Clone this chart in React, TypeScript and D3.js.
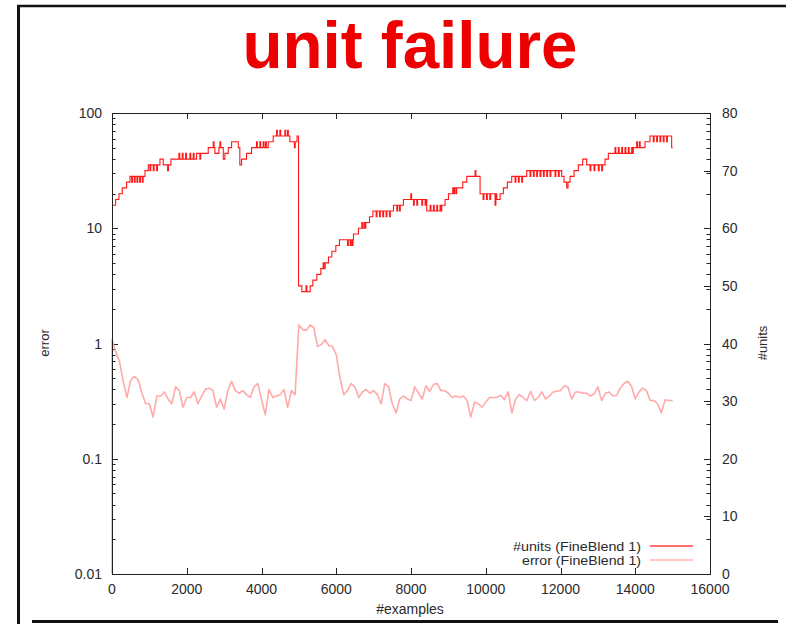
import { useEffect, useRef } from "react";
import * as d3 from "d3";

// #units step changes: [examples, units]
const unitSteps: [number, number][] = [
  [0, 64], [97, 65], [186, 66], [275, 67], [391, 68], [480, 69], [882, 70], [971, 71],
  [1283, 72], [1372, 71], [1577, 72], [2263, 73], [2575, 74], [2753, 73], [2860, 74],
  [2977, 72], [3020, 73], [3110, 74], [3200, 75], [3380, 74], [3420, 71], [3466, 72],
  [3600, 73], [3734, 74], [4180, 75], [4313, 76], [4760, 75], [4950, 76], [4991, 50],
  [5080, 49], [5303, 50], [5374, 51], [5481, 52], [5588, 53], [5704, 54], [5793, 55],
  [5882, 56], [5989, 57], [6087, 58], [6461, 59], [6595, 60], [6790, 61], [6890, 62],
  [6980, 63], [7531, 64], [7798, 65], [8422, 63], [8823, 64], [8913, 65], [9002, 66],
  [9118, 67], [9385, 68], [9492, 69], [9848, 66], [10294, 65], [10383, 66], [10472, 67],
  [10579, 68], [10695, 69], [11096, 70], [12032, 69], [12095, 68], [12166, 67], [12200, 68],
  [12255, 69], [12362, 70], [12478, 71], [12594, 72], [12701, 71], [13191, 72], [13280, 73],
  [13948, 74], [14261, 75], [14394, 76], [14974, 74], [15000, 74],
];

// short one-unit flickers of #units: [examples, units]
const unitFlicks: [number, number][] = [
  [526, 68], [597, 68], [668, 68], [740, 68], [811, 68],
  [1015, 70], [1105, 70], [1194, 70], [1488, 70],
  [1791, 73], [1880, 73], [1969, 73], [2085, 73], [2174, 73],
  [2350, 72], [2709, 75], [2887, 75],
  [3867, 75], [3956, 75], [4045, 75], [4108, 75],
  [4402, 77], [4491, 77], [4625, 77], [4696, 77], [4880, 74],
  [5191, 50], [5650, 54], [6301, 57], [6372, 57], [6426, 57], [6683, 61], [6746, 61],
  [7067, 62], [7156, 62], [7245, 62], [7334, 62], [7424, 62], [7620, 63], [7691, 63],
  [7994, 66], [8066, 64], [8155, 64], [8289, 64], [8378, 64],
  [8511, 64], [8600, 64], [8689, 64], [8778, 64], [9140, 66], [9200, 66], [9715, 70],
  [9930, 65], [10020, 65], [10110, 65], [10249, 64],
  [10784, 68], [10873, 68], [10962, 68],
  [11185, 69], [11274, 69], [11364, 69], [11453, 69], [11542, 69], [11631, 69], [11720, 69],
  [11854, 69], [11944, 69],
  [12790, 70], [12897, 70], [13013, 70], [13102, 70],
  [13458, 74], [13547, 74], [13637, 74], [13726, 74], [13815, 74], [13904, 74],
  [14038, 75], [14110, 75],
  [14483, 75], [14572, 75], [14661, 75], [14750, 75], [14839, 75],
];

// error sampled every 100 examples, from 0 to 15000
const errorStep = 100;
const errorStart = 0.01;
const errorValues = [
  1.08, 0.85, 0.7, 0.47, 0.34, 0.48, 0.52, 0.485, 0.37, 0.3,
  0.3, 0.23, 0.35, 0.35, 0.38, 0.33, 0.3, 0.42, 0.39, 0.28,
  0.34, 0.34, 0.38, 0.3, 0.35, 0.4, 0.41, 0.39, 0.28, 0.33,
  0.27, 0.39, 0.47, 0.39, 0.37, 0.39, 0.36, 0.34, 0.42, 0.45,
  0.33, 0.24, 0.4, 0.34, 0.35, 0.36, 0.4, 0.28, 0.39, 0.36,
  1.45, 1.32, 1.3, 1.45, 1.37, 0.94, 0.98, 1.08, 0.96, 0.94,
  0.8, 0.5, 0.36, 0.39, 0.45, 0.42, 0.34, 0.38, 0.4, 0.37,
  0.39, 0.36, 0.3, 0.45, 0.42, 0.3, 0.25, 0.33, 0.35, 0.33,
  0.32, 0.42, 0.37, 0.33, 0.43, 0.385, 0.44, 0.45, 0.39, 0.39,
  0.37, 0.34, 0.35, 0.34, 0.35, 0.32, 0.23, 0.31, 0.3, 0.28,
  0.31, 0.34, 0.34, 0.34, 0.355, 0.325, 0.38, 0.25, 0.33, 0.36,
  0.34, 0.32, 0.385, 0.32, 0.34, 0.38, 0.33, 0.35, 0.38, 0.385,
  0.39, 0.43, 0.42, 0.33, 0.38, 0.38, 0.37, 0.37, 0.35, 0.365,
  0.42, 0.32, 0.37, 0.38, 0.35, 0.355, 0.41, 0.45, 0.47, 0.425,
  0.33, 0.38, 0.41, 0.39, 0.32, 0.32, 0.3, 0.25, 0.325, 0.32,
  0.32,
];

const xTicks = [0, 2000, 4000, 6000, 8000, 10000, 12000, 14000, 16000];
const unitTicks = [0, 10, 20, 30, 40, 50, 60, 70, 80];
const legendLabels = ["#units (FineBlend 1)", "error (FineBlend 1)"];

const W = 786;
const H = 624;
const FONT = "'Liberation Sans', Arial, sans-serif";

export default function App() {
  const svgRef = useRef<SVGSVGElement | null>(null);

  useEffect(() => {
    if (!svgRef.current) return;
    const svg = d3.select(svgRef.current);
    svg.selectAll("*").remove();

    const plot = { left: 112, right: 710, top: 113, bottom: 574 };
    const unitsColor = "#ff1818";
    const errorColor = "#ffaaaa";
    const textColor = "#2b2b2b";

    const x = d3.scaleLinear().domain([0, 16000]).range([plot.left, plot.right]);
    const yErr = d3.scaleLog().domain([0.01, 100]).range([plot.bottom, plot.top]);
    const yUnits = d3.scaleLinear().domain([0, 80]).range([plot.bottom, plot.top]);

    // slide frame
    svg.append("line").attr("x1", 17).attr("x2", W).attr("y1", 6).attr("y2", 6)
      .attr("stroke", "#111").attr("stroke-width", 2.5);
    svg.append("line").attr("x1", 18.5).attr("x2", 18.5).attr("y1", 5).attr("y2", H)
      .attr("stroke", "#111").attr("stroke-width", 3);
    svg.append("line").attr("x1", 32).attr("x2", 778).attr("y1", 621.5).attr("y2", 621.5)
      .attr("stroke", "#111").attr("stroke-width", 3);

    // title
    svg.append("text")
      .attr("x", 410).attr("y", 68)
      .attr("text-anchor", "middle")
      .attr("font-family", FONT)
      .attr("font-weight", "bold")
      .attr("font-size", 67)
      .attr("textLength", 335)
      .attr("lengthAdjust", "spacingAndGlyphs")
      .attr("fill", "#ee0000")
      .text("unit failure");

    const axes = svg.append("g").attr("stroke", "#222").attr("stroke-width", 1);

    // x ticks (bottom + mirrored top)
    xTicks.forEach((t) => {
      const px = Math.round(x(t)) + 0.5;
      axes.append("line").attr("x1", px).attr("x2", px).attr("y1", plot.bottom).attr("y2", plot.bottom - 6);
      axes.append("line").attr("x1", px).attr("x2", px).attr("y1", plot.top).attr("y2", plot.top + 6);
      svg.append("text")
        .attr("x", x(t)).attr("y", 594)
        .attr("text-anchor", "middle")
        .attr("font-family", FONT).attr("font-size", 14).attr("fill", textColor)
        .text(String(t));
    });

    // log ticks (left + mirrored right)
    const fmt = d3.format("~g");
    yErr.ticks().forEach((t) => {
      const major = Math.abs(Math.log10(t) - Math.round(Math.log10(t))) < 1e-6;
      const len = major ? 6 : 3.5;
      const py = Math.round(yErr(t)) + 0.5;
      axes.append("line").attr("x1", plot.left).attr("x2", plot.left + len).attr("y1", py).attr("y2", py);
      axes.append("line").attr("x1", plot.right).attr("x2", plot.right - len).attr("y1", py).attr("y2", py);
      if (major) {
        svg.append("text")
          .attr("x", 102).attr("y", yErr(t) + 5)
          .attr("text-anchor", "end")
          .attr("font-family", FONT).attr("font-size", 14).attr("fill", textColor)
          .text(fmt(Math.pow(10, Math.round(Math.log10(t)))));
      }
    });

    // #units ticks on the right
    unitTicks.forEach((t) => {
      const py = Math.round(yUnits(t)) + 0.5;
      axes.append("line").attr("x1", plot.right).attr("x2", plot.right - 6).attr("y1", py).attr("y2", py);
      svg.append("text")
        .attr("x", 722).attr("y", yUnits(t) + 5)
        .attr("font-family", FONT).attr("font-size", 14).attr("fill", textColor)
        .text(String(t));
    });

    // axis labels
    svg.append("text")
      .attr("transform", "translate(49,343) rotate(-90)")
      .attr("text-anchor", "middle")
      .attr("font-family", FONT).attr("font-size", 13).attr("fill", textColor)
      .text("error");
    svg.append("text")
      .attr("transform", "translate(767,343) rotate(-90)")
      .attr("text-anchor", "middle")
      .attr("font-family", FONT).attr("font-size", 13).attr("fill", textColor)
      .text("#units");
    svg.append("text")
      .attr("x", 410).attr("y", 614)
      .attr("text-anchor", "middle")
      .attr("font-family", FONT).attr("font-size", 14).attr("fill", textColor)
      .text("#examples");

    // error series
    const errPts: [number, number][] = [[0, errorStart]];
    errorValues.forEach((v, i) => errPts.push([i * errorStep, v]));
    svg.append("path")
      .attr("d", d3.line<[number, number]>().x((d) => x(d[0])).y((d) => yErr(d[1]))(errPts) ?? "")
      .attr("fill", "none")
      .attr("stroke", errorColor)
      .attr("stroke-width", 1.6)
      .attr("stroke-linejoin", "round");

    // #units series: steps with short flickers
    const baseAt = (ex: number) => {
      let v = unitSteps[0][1];
      for (const [sx, sv] of unitSteps) if (sx <= ex) v = sv;
      return v;
    };
    const events: [number, number][] = [...unitSteps];
    unitFlicks.forEach(([fx, fv]) => {
      events.push([fx, fv]);
      events.push([fx + 22, baseAt(fx)]);
    });
    events.sort((a, b) => a[0] - b[0]);
    svg.append("path")
      .attr("d", d3.line<[number, number]>().x((d) => x(d[0])).y((d) => yUnits(d[1])).curve(d3.curveStepAfter)(events) ?? "")
      .attr("fill", "none")
      .attr("stroke", unitsColor)
      .attr("stroke-width", 1.1);

    // plot border
    svg.append("rect")
      .attr("x", plot.left + 0.5).attr("y", plot.top + 0.5)
      .attr("width", plot.right - plot.left).attr("height", plot.bottom - plot.top)
      .attr("fill", "none").attr("stroke", "#222").attr("stroke-width", 1);

    // legend
    const legendColors = ["#ff7070", "#ffb4b4"];
    legendLabels.forEach((label, i) => {
      const ly = 546 + i * 14;
      svg.append("text")
        .attr("x", 641).attr("y", ly + 4.5)
        .attr("text-anchor", "end")
        .attr("font-family", FONT).attr("font-size", 13).attr("fill", textColor)
        .attr("textLength", i === 0 ? 128 : 119)
        .attr("lengthAdjust", "spacingAndGlyphs")
        .text(label);
      svg.append("line")
        .attr("x1", 650).attr("x2", 693).attr("y1", ly).attr("y2", ly)
        .attr("stroke", legendColors[i]).attr("stroke-width", i === 0 ? 2 : 1.5);
    });
  }, []);

  return (
    <svg
      ref={svgRef}
      width={W}
      height={H}
      viewBox={`0 0 ${W} ${H}`}
      style={{ position: "fixed", left: 0, top: 0, background: "#fff" }}
    ></svg>
  );
}
